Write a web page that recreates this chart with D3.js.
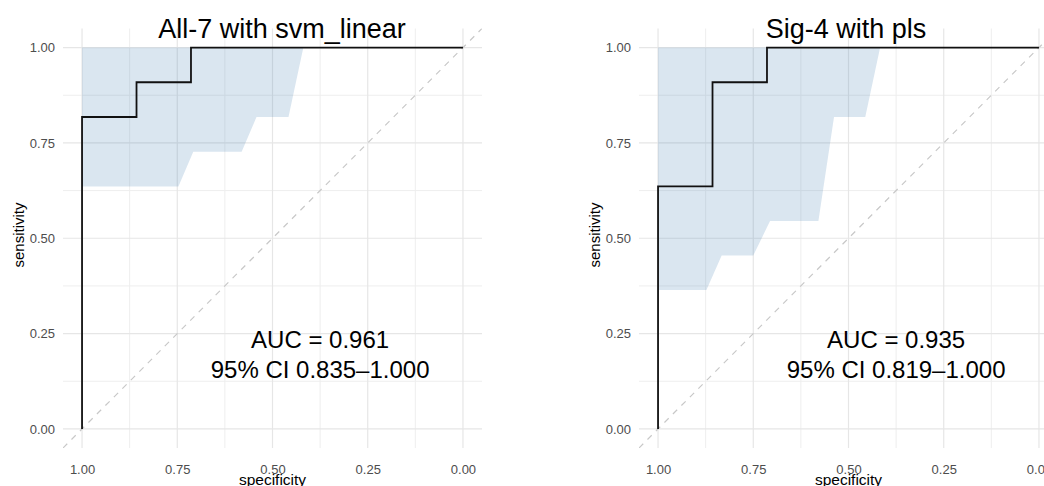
<!DOCTYPE html>
<html>
<head>
<meta charset="utf-8">
<script src="https://cdn.jsdelivr.net/npm/d3@7"></script>
<style>
  html, body { margin: 0; padding: 0; background: #fff; }
  svg { display: block; font-family: "Liberation Sans", Arial, Helvetica, sans-serif; }
</style>
</head>
<body>
<svg id="chart" width="1044" height="486"></svg>
<script>
// axis ticks
const specTicks = [1.00, 0.75, 0.50, 0.25, 0.00];
const sensTicks = [0.00, 0.25, 0.50, 0.75, 1.00];
const minorTicks = [0.125, 0.375, 0.625, 0.875];

// All-7 with svm_linear: ROC curve corners (specificity, sensitivity)
const all7Spec = [1, 1, 0.857, 0.857, 0.714, 0.714, 0];
const all7Sens = [0, 0.818, 0.818, 0.909, 0.909, 1, 1];
// confidence band: lower sensitivity along specificity (upper is 1)
const all7BandSpec = [1, 0.747, 0.708, 0.581, 0.542, 0.458, 0.419];
const all7BandLow = [0.636, 0.636, 0.727, 0.727, 0.818, 0.818, 1];

// Sig-4 with pls
const sig4Spec = [1, 1, 0.857, 0.857, 0.714, 0.714, 0];
const sig4Sens = [0, 0.636, 0.636, 0.909, 0.909, 1, 1];
const sig4BandSpec = [1, 0.873, 0.833, 0.75, 0.706, 0.579, 0.538, 0.456, 0.417];
const sig4BandLow = [0.364, 0.364, 0.455, 0.455, 0.545, 0.545, 0.818, 0.818, 1];

const panels = [
  { title: "All-7 with svm_linear", auc: "AUC = 0.961", ci: "95% CI 0.835\u20131.000",
    spec: all7Spec, sens: all7Sens, bandSpec: all7BandSpec, bandLow: all7BandLow,
    left: 63, titleX: 282 },
  { title: "Sig-4 with pls", auc: "AUC = 0.935", ci: "95% CI 0.819\u20131.000",
    spec: sig4Spec, sens: sig4Sens, bandSpec: sig4BandSpec, bandLow: sig4BandLow,
    left: 639, titleX: 846 }
];

const svg = d3.select("#chart");
const pw = 419, panelTop = 28.5, ph = 419.5;

panels.forEach((p, i) => {
  const x = d3.scaleLinear().domain([1.05, -0.05]).range([p.left, p.left + pw]);
  const y = d3.scaleLinear().domain([-0.05, 1.05]).range([panelTop + ph, panelTop]);
  const g = svg.append("g");

  const clipId = "clip" + i;
  g.append("clipPath").attr("id", clipId)
    .append("rect").attr("x", p.left).attr("y", panelTop).attr("width", pw).attr("height", ph);

  // grid
  const grid = g.append("g");
  minorTicks.forEach(t => {
    grid.append("line").attr("x1", x(t)).attr("x2", x(t)).attr("y1", panelTop).attr("y2", panelTop + ph)
      .attr("stroke", "#eeeeee").attr("stroke-width", 1);
    grid.append("line").attr("y1", y(t)).attr("y2", y(t)).attr("x1", p.left).attr("x2", p.left + pw)
      .attr("stroke", "#eeeeee").attr("stroke-width", 1);
  });
  specTicks.forEach(t => {
    grid.append("line").attr("x1", x(t)).attr("x2", x(t)).attr("y1", panelTop).attr("y2", panelTop + ph)
      .attr("stroke", "#e6e6e6").attr("stroke-width", 1.2);
  });
  sensTicks.forEach(t => {
    grid.append("line").attr("y1", y(t)).attr("y2", y(t)).attr("x1", p.left).attr("x2", p.left + pw)
      .attr("stroke", "#e6e6e6").attr("stroke-width", 1.2);
  });

  const plot = g.append("g").attr("clip-path", `url(#${clipId})`);

  // confidence band
  const band = p.bandSpec.map((s, k) => [s, p.bandLow[k]]);
  plot.append("path").datum(band)
    .attr("d", d3.area().x(d => x(d[0])).y0(d => y(d[1])).y1(y(1)))
    .attr("fill", "steelblue").attr("fill-opacity", 0.2);

  // chance diagonal
  plot.append("line")
    .attr("x1", x(1.05)).attr("y1", y(-0.05)).attr("x2", x(-0.05)).attr("y2", y(1.05))
    .attr("stroke", "#c8c8c8").attr("stroke-width", 1.2).attr("stroke-dasharray", "6,6");

  // ROC curve
  const roc = p.spec.map((s, k) => [s, p.sens[k]]);
  plot.append("path").datum(roc)
    .attr("d", d3.line().x(d => x(d[0])).y(d => y(d[1])))
    .attr("fill", "none").attr("stroke", "#111").attr("stroke-width", 1.8);

  // axes
  const xAxis = g.append("g").attr("transform", `translate(0,${panelTop + ph})`)
    .call(d3.axisBottom(x).tickValues(specTicks).tickFormat(d3.format(".2f")).tickSize(0).tickPadding(17));
  const yAxis = g.append("g").attr("transform", `translate(${p.left},0)`)
    .call(d3.axisLeft(y).tickValues(sensTicks).tickFormat(d3.format(".2f")).tickSize(0).tickPadding(8));
  [xAxis, yAxis].forEach(a => {
    a.select(".domain").remove();
    a.selectAll("text").attr("fill", "#4d4d4d").attr("font-size", 13)
      .attr("font-family", "\"Liberation Sans\", Arial, sans-serif");
  });

  // titles
  g.append("text").attr("x", p.titleX).attr("y", 37.5).attr("text-anchor", "middle")
    .attr("font-size", 27).attr("fill", "#000").text(p.title);
  g.append("text").attr("x", p.left + pw / 2).attr("y", 485).attr("text-anchor", "middle")
    .attr("font-size", 15.5).attr("fill", "#000").text("specificity");
  g.append("text").attr("transform", `translate(${p.left - 39},235) rotate(-90)`)
    .attr("text-anchor", "middle").attr("font-size", 15).attr("fill", "#000").text("sensitivity");

  // AUC annotation
  const ax = x(0.375);
  g.append("text").attr("x", ax).attr("y", 348).attr("text-anchor", "middle")
    .attr("font-size", 24).attr("fill", "#000").text(p.auc);
  g.append("text").attr("x", ax).attr("y", 378).attr("text-anchor", "middle")
    .attr("font-size", 24).attr("fill", "#000").text(p.ci);
});
</script>
</body>
</html>
